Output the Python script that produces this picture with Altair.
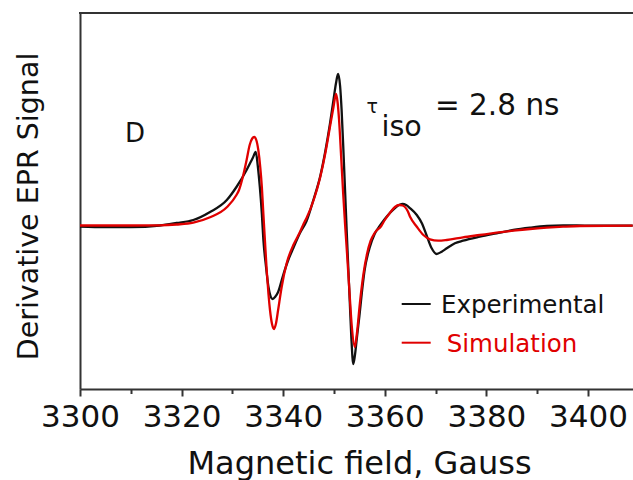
import altair as alt
import pandas as pd

# Experimental spectrum (field in Gauss, derivative signal in arbitrary units)
field_exp = [3300, 3305, 3310, 3315.7, 3319, 3322.3, 3325.6, 3328.9, 3330.8, 3332.8,
             3334.0, 3334.6, 3335.0, 3335.4, 3335.8, 3336.1, 3336.6, 3337.1, 3337.5, 3337.9,
             3338.4, 3339.0, 3340.0, 3341.0, 3342.0, 3343.3, 3344.6, 3346.0, 3347.3, 3348.3,
             3349.2, 3349.9, 3350.4, 3350.8, 3351.2, 3351.5, 3351.9, 3352.2, 3352.5, 3352.8,
             3353.1, 3353.4, 3353.8, 3354.1, 3354.5, 3355.0, 3355.5, 3356.0, 3357.0, 3358.0,
             3359.0, 3360.0, 3361.0, 3362.0, 3363.0, 3363.5, 3364.2, 3365.0, 3366.3, 3367.3,
             3368.2, 3369.2, 3370.2, 3371.2, 3372.2, 3373.8, 3375.4, 3378.7, 3382.0, 3385.3,
             3388.6, 3391.9, 3395.1, 3397.8, 3401, 3405, 3408.8]
signal_exp = [-0.5, -1, -1, 0.5, 3, 6, 14, 26, 39, 56,
              68, 74, 60, 39, 12, -14, -40, -61, -70, -73,
              -71, -66, -49, -34, -22, -7, 5, 27, 50, 75,
              102, 126, 143, 152, 140, 116, 70, 33, -5, -40,
              -75, -110, -138, -130, -112, -90, -66, -45, -22, -8,
              0, 7, 13, 18, 21.5, 22, 21, 17.7, 11, 2.7,
              -9, -22, -28, -25.7, -22.3, -17.3, -14.7, -10.7, -7.3, -4,
              -1.7, 0, 0.5, 0.5, 0.3, 0.3, 0.3]

# Simulated spectrum
field_sim = [3300, 3310, 3315.7, 3319, 3322.3, 3325.6, 3328.9, 3330.8, 3331.3, 3332.0,
             3332.8, 3333.4, 3333.9, 3334.3, 3334.7, 3335.1, 3335.5, 3335.8, 3336.1, 3336.4,
             3336.75, 3337.1, 3337.4, 3337.8, 3338.2, 3338.6, 3339.0, 3339.7, 3340.7, 3342.0,
             3342.7, 3343.3, 3344.0, 3344.6, 3346.0, 3347.3, 3348.3, 3349.2, 3349.9, 3350.4,
             3350.7, 3351.0, 3351.4, 3351.8, 3352.2, 3352.6, 3353.0, 3353.5, 3354.1, 3354.5,
             3355.1, 3355.8, 3356.5, 3357.2, 3358.0, 3359.3, 3360.0, 3361.0, 3362.0, 3362.8,
             3363.5, 3364.5, 3365.0, 3366.3, 3367.6, 3368.9, 3370.5, 3372.2, 3375.4, 3378.7,
             3382.0, 3385.3, 3388.6, 3391.9, 3395.1, 3398.4, 3408.8]
signal_sim = [0.5, 0.5, 0.7, 1.5, 3.3, 8.7, 18.7, 31, 36, 48,
              66, 81, 87.5, 89, 86, 76, 58, 39, 12, -14,
              -44, -68, -84, -98, -103, -97, -84, -61, -37, -19,
              -12, -6, 2, 8, 26, 49, 73, 99, 119, 132,
              124, 106, 70, 33, 0, -30, -62, -100, -121, -108,
              -77, -48, -28, -15, -7, 0, 6, 13, 19, 21,
              20.5, 15, 9, -0.7, -9, -13.3, -14.7, -14, -11.3, -9,
              -6.7, -4.7, -3, -1.7, -0.7, 0, 0.3]

major_ticks = [3300, 3320, 3340, 3360, 3380, 3400]
minor_ticks = [3310, 3330, 3350, 3370, 3390]
legend_labels = ["Experimental", "Simulation"]

FONT = "DejaVu Sans"
W, H = 553, 376
x_dom = [3300, 3408.86]
y_dom = [-163, 213]

df_exp = pd.DataFrame({"field": field_exp, "signal": signal_exp})
df_sim = pd.DataFrame({"field": field_sim, "signal": signal_sim})

x_scale = alt.Scale(domain=x_dom, nice=False, zero=False)
y_scale = alt.Scale(domain=y_dom, nice=False, zero=False)

y_axis = alt.Axis(ticks=False, labels=False, grid=False, domainColor="#333333",
                  domainWidth=2, title="Derivative EPR Signal", titleFont=FONT,
                  titleFontSize=28.5, titleFontWeight="normal", titleColor="#111111",
                  titleAngle=270, titleBaseline="alphabetic", titleAlign="center",
                  titleX=-43, titleY=193)

x_axis_major = alt.Axis(orient="bottom", values=major_ticks, tickSize=7, tickWidth=2,
                        tickColor="#333333", domainColor="#333333", domainWidth=2,
                        grid=False, labelFont=FONT, labelFontSize=31, labelColor="#111111",
                        labelBaseline="alphabetic", labelPadding=30, labelFlush=False,
                        labelOverlap=False, format="d",
                        title="Magnetic field, Gauss", titleFont=FONT, titleFontSize=32,
                        titleFontWeight="normal", titleColor="#111111",
                        titleBaseline="alphabetic", titleAlign="center",
                        titleX=279, titleY=84)

x_axis_minor = alt.Axis(orient="bottom", values=minor_ticks, tickSize=4.5, tickWidth=2,
                        tickColor="#333333", domain=False, labels=False, grid=False,
                        title=None)

exp_line = alt.Chart(df_exp).mark_line(color="#111111", strokeWidth=2.3,
                                       interpolate="monotone", clip=True).encode(
    x=alt.X("field:Q", scale=x_scale, axis=x_axis_minor),
    y=alt.Y("signal:Q", scale=y_scale, axis=y_axis),
)

sim_line = alt.Chart(df_sim).mark_line(color="#e00000", strokeWidth=2.3,
                                       interpolate="monotone", clip=True).encode(
    x=alt.X("field:Q", scale=x_scale, axis=x_axis_major),
    y=alt.Y("signal:Q", scale=y_scale, axis=y_axis),
)

one = pd.DataFrame({"k": [0]})

top_border = alt.Chart(one).mark_rule(color="#333333", strokeWidth=2).encode(
    x=alt.value(-1), x2=alt.value(W + 2), y=alt.value(0))


def label(txt, x, y, size, color="#111111"):
    return alt.Chart(pd.DataFrame({"t": [txt]})).mark_text(
        font=FONT, fontSize=size, color=color, align="left", baseline="alphabetic"
    ).encode(text="t:N", x=alt.value(x), y=alt.value(y))


panel = label("D", 45, 129, 26)
tau = label("τ", 286.5, 100, 19)
iso = label("iso", 301.5, 123, 28.5)
eq = label("= 2.8 ns", 355, 102, 29.5)

leg_exp_line = alt.Chart(one).mark_rule(color="#111111", strokeWidth=2).encode(
    x=alt.value(321.7), x2=alt.value(350.7), y=alt.value(291))
leg_sim_line = alt.Chart(one).mark_rule(color="#e00000", strokeWidth=2).encode(
    x=alt.value(321.7), x2=alt.value(350.7), y=alt.value(329.7))
leg_exp_txt = label(legend_labels[0], 361, 300.3, 24.5)
leg_sim_txt = label(legend_labels[1], 366.7, 338.7, 24.5, color="#e00000")

chart = alt.layer(
    exp_line, sim_line, top_border, panel, tau, iso, eq,
    leg_exp_line, leg_sim_line, leg_exp_txt, leg_sim_txt,
).resolve_axis(x="independent").properties(
    width=W, height=H,
    autosize=alt.AutoSizeParams(type="none"),
    padding={"left": 80, "top": 13, "right": 0, "bottom": 91},
    background="white",
).configure_view(stroke=None)

chart.save("out.html", embed_options={"renderer": "svg", "actions": False})
